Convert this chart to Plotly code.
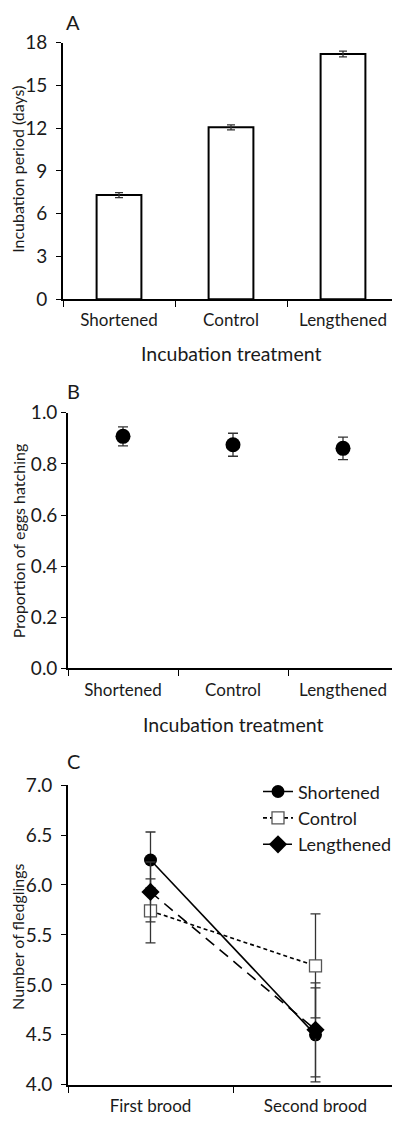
import plotly.graph_objects as go

# ---------------- data ----------------
treatments = ["Shortened", "Control", "Lengthened"]
incubation_days = [7.3, 12.05, 17.2]
incubation_se = [0.18, 0.17, 0.2]

hatch_prop = [0.908, 0.875, 0.861]
hatch_se = [0.037, 0.045, 0.044]

broods = ["First brood", "Second brood"]
fledg_shortened = [6.25, 4.50]
fledg_shortened_se = [0.28, 0.47]
fledg_control = [5.74, 5.19]
fledg_control_se = [0.32, 0.52]
fledg_lengthened = [5.93, 4.55]
fledg_lengthened_se = [0.30, 0.47]

W, H = 400, 1126
FONT = "Lato"
TXT = "#1a1a1a"
OFF = 8  # page body margin


def px_x(x):
    return (x - OFF) / W


def px_y(y):
    return 1 - (y - OFF) / H


fig = go.Figure()

# Panel A: bars
fig.add_trace(go.Bar(
    x=treatments, y=incubation_days, width=0.4,
    marker=dict(color="white", line=dict(color="black", width=2)),
    error_y=dict(type="data", array=incubation_se, color="#333333", thickness=1.3, width=4),
    showlegend=False, xaxis="x", yaxis="y",
))

# Panel B: points
fig.add_trace(go.Scatter(
    x=treatments, y=hatch_prop, mode="markers",
    marker=dict(color="black", size=15, symbol="circle"),
    error_y=dict(type="data", array=hatch_se, color="#333333", thickness=1.3, width=5),
    showlegend=False, xaxis="x2", yaxis="y2",
))

# Panel C: lines
fig.add_trace(go.Scatter(
    x=broods, y=fledg_shortened, mode="lines+markers", name="Shortened",
    line=dict(color="black", width=1.6),
    marker=dict(color="black", size=13, symbol="circle"),
    error_y=dict(type="data", array=fledg_shortened_se, color="#333333", thickness=1.3, width=5),
    xaxis="x3", yaxis="y3",
))
fig.add_trace(go.Scatter(
    x=broods, y=fledg_control, mode="lines+markers", name="Control",
    line=dict(color="black", width=1.6, dash="4px,3px"),
    marker=dict(color="white", size=12, symbol="square", line=dict(color="#555555", width=1.3)),
    error_y=dict(type="data", array=fledg_control_se, color="#333333", thickness=1.3, width=5),
    xaxis="x3", yaxis="y3",
))
fig.add_trace(go.Scatter(
    x=broods, y=fledg_lengthened, mode="lines+markers", name="Lengthened",
    line=dict(color="black", width=1.6, dash="11px,7px"),
    marker=dict(color="black", size=14, symbol="diamond"),
    error_y=dict(type="data", array=fledg_lengthened_se, color="#333333", thickness=1.3, width=5),
    xaxis="x3", yaxis="y3",
))

axis_common = dict(
    showline=True, linecolor="black", linewidth=1.6, showgrid=False, zeroline=False,
    ticks="outside", tickcolor="black", tickwidth=1.3, ticklen=5,
    tickfont=dict(family=FONT, size=19, color=TXT),
)
xcat = dict(axis_common, type="category", tickson="boundaries", ticklen=6, tickangle=0,
            ticklabelstandoff=5, tickfont=dict(family=FONT, size=17, color=TXT))

fig.update_layout(
    width=W, height=H,
    margin=dict(l=0, r=0, t=0, b=0),
    paper_bgcolor="white", plot_bgcolor="white",
    font=dict(family=FONT, color=TXT),
    bargap=0.6,
    xaxis=dict(xcat, domain=[px_x(63), px_x(399)], anchor="y", range=[-0.5, 2.5]),
    yaxis=dict(axis_common, domain=[px_y(293), px_y(31)], range=[0, 18],
               tickvals=[0, 3, 6, 9, 12, 15, 18], anchor="x", ticklabelstandoff=5),
    xaxis2=dict(xcat, domain=[px_x(68), px_x(398)], anchor="y2", range=[-0.5, 2.5]),
    yaxis2=dict(axis_common, domain=[px_y(670), px_y(409)], range=[0, 1],
                tickvals=[0, 0.2, 0.4, 0.6, 0.8, 1.0], tickformat=".1f", anchor="x2"),
    xaxis3=dict(xcat, domain=[px_x(68), px_x(398)], anchor="y3", range=[-0.5, 1.5]),
    yaxis3=dict(axis_common, domain=[px_y(1095), px_y(789)], range=[4, 7],
                tickvals=[4, 4.5, 5, 5.5, 6, 6.5, 7], tickformat=".1f", anchor="x3",
                ticklabelstandoff=5),
    legend=dict(x=px_x(258), y=px_y(777), xanchor="left", yanchor="top",
                bgcolor="rgba(0,0,0,0)", font=dict(family=FONT, size=18, color=TXT),
                tracegroupgap=2, itemwidth=30),
)

ann = []
# panel letters
for letter, yy in [("A", 10), ("B", 387), ("C", 764)]:
    ann.append(dict(text=letter, x=px_x(73), y=px_y(yy), xref="paper", yref="paper",
                    showarrow=False, xanchor="center", yanchor="middle",
                    font=dict(family=FONT, size=20, color=TXT)))
# y titles
for t, yy in [("Incubation period (days)", 161), ("Proportion of eggs hatching", 540),
              ("Number of fledglings", 944)]:
    ann.append(dict(text=t, x=px_x(18), y=px_y(yy), xref="paper", yref="paper",
                    showarrow=False, xanchor="center", yanchor="middle", textangle=-90,
                    font=dict(family=FONT, size=16, color=TXT)))
# x titles
for t, xx, yy in [("Incubation treatment", 231, 348), ("Incubation treatment", 233, 727)]:
    ann.append(dict(text=t, x=px_x(xx), y=px_y(yy), xref="paper", yref="paper",
                    showarrow=False, xanchor="center", yanchor="middle",
                    font=dict(family=FONT, size=19.5, color=TXT)))
fig.update_layout(annotations=ann)

fig.write_html("out.html")
